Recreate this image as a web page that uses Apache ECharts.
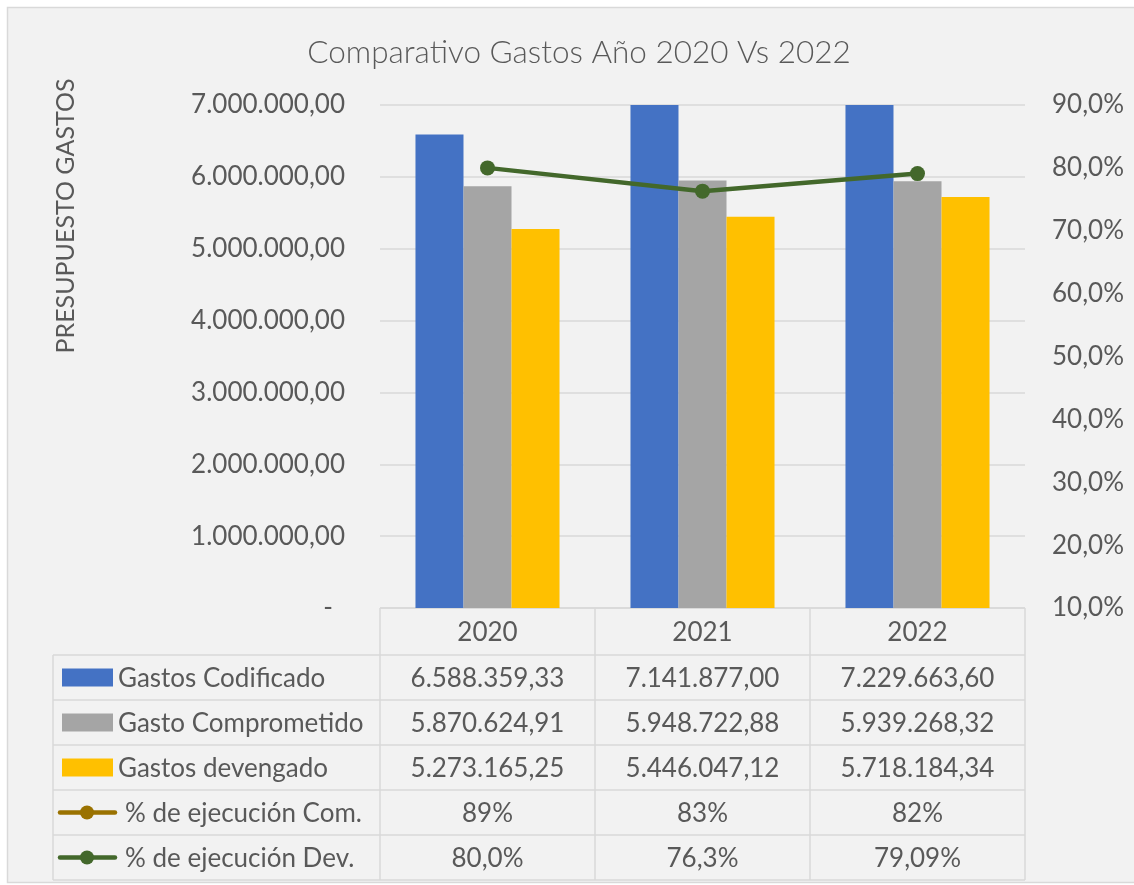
<!DOCTYPE html>
<html>
<head>
<meta charset="utf-8">
<script src="https://cdn.jsdelivr.net/npm/echarts@6/dist/echarts.min.js"></script>
<style>html,body{margin:0;padding:0;background:#fff}#c{width:1134px;height:885px}</style>
</head>
<body>
<div id="c"></div>
<script>
var categories = ['2020', '2021', '2022'];
var codificado = [6588359.33, 7141877.00, 7229663.60];
var comprometido = [5870624.91, 5948722.88, 5939268.32];
var devengado = [5273165.25, 5446047.12, 5718184.34];
var pctCom = [89, 83, 82];
var pctComLabels = ['89%', '83%', '82%'];
var pctDev = [80.0, 76.3, 79.09];
var pctDevLabels = ['80,0%', '76,3%', '79,09%'];
var seriesNames = ['Gastos Codificado', 'Gasto Comprometido', 'Gastos devengado', '% de ejecución Com.', '% de ejecución Dev.'];

var FONT = 'Lato';
var FS = 26;
var TXT = '#595959';
var C_BLUE = '#4472C4', C_GRAY = '#A5A5A5', C_YEL = '#FFC000', C_COM = '#9A7200', C_DEV = '#43682B';
var GL = 380, GR = 1025, GT = 105, GB = 608;

function fmtNum(v) {
  var s = v.toFixed(2).split('.');
  return s[0].replace(/\B(?=(\d{3})+(?!\d))/g, '.') + ',' + s[1];
}

var chart = echarts.init(document.getElementById('c'));
var option = {
  backgroundColor: '#f2f2f2',
  animation: false,
  title: {
    text: 'Comparativo Gastos Año 2020 Vs 2022',
    left: 574, top: 32, textAlign: 'center',
    textStyle: { fontFamily: FONT, fontWeight: 300, fontSize: 31.5, color: TXT }
  },
  grid: { left: GL, right: 1134 - GR, top: GT, bottom: 885 - GB, containLabel: false },
  xAxis: {
    type: 'category', data: categories,
    axisLine: { show: false }, axisTick: { show: false }, axisLabel: { show: false }
  },
  yAxis: [{
    type: 'value', min: 0, max: 7000000, interval: 1000000,
    axisLine: { show: false }, axisTick: { show: false },
    splitLine: { lineStyle: { color: '#d9d9d9', width: 1.5 } },
    axisLabel: {
      margin: 35, fontFamily: FONT, fontSize: FS, color: TXT,
      formatter: function (v) { return v === 0 ? '{d|-}' : fmtNum(v); },
      rich: { d: { fontFamily: FONT, fontSize: FS, color: TXT, padding: [0, 12, 0, 0] } }
    }
  }, {
    type: 'value', min: 10, max: 90, interval: 10,
    axisLine: { show: false }, axisTick: { show: false }, splitLine: { show: false },
    axisLabel: {
      margin: 27, fontFamily: FONT, fontSize: FS, color: TXT,
      formatter: function (v) { return v.toFixed(1).replace('.', ',') + '%'; }
    }
  }],
  series: [
    { name: seriesNames[0], type: 'bar', data: codificado, barGap: '0%', barCategoryGap: '33%', itemStyle: { color: C_BLUE }, clip: true },
    { name: seriesNames[1], type: 'bar', data: comprometido, itemStyle: { color: C_GRAY }, clip: true },
    { name: seriesNames[2], type: 'bar', data: devengado, itemStyle: { color: C_YEL }, clip: true },
    { name: seriesNames[4], type: 'line', yAxisIndex: 1, data: pctDev, symbol: 'circle', symbolSize: 15,
      lineStyle: { color: C_DEV, width: 4.5 }, itemStyle: { color: C_DEV }, z: 5 }
  ]
};
chart.setOption(option);

// Data table under the plot
var els = [];
els.push({ type: 'rect', shape: { x: 0, y: 0, width: 1134, height: 7 }, style: { fill: '#fff' }, silent: true });
els.push({ type: 'rect', shape: { x: 0, y: 0, width: 7, height: 885 }, style: { fill: '#fff' }, silent: true });
els.push({ type: 'rect', shape: { x: 0, y: 883, width: 1134, height: 2 }, style: { fill: '#fff' }, silent: true });
els.push({ type: 'rect', shape: { x: 7.5, y: 7.5, width: 1140, height: 875 }, style: { fill: 'none', stroke: '#d9d9d9', lineWidth: 1.5 }, silent: true });

els.push({ type: 'text', x: 66, y: 216, rotation: Math.PI / 2,
  style: { text: 'PRESUPUESTO GASTOS', fontFamily: FONT, fontSize: 25, fill: TXT, align: 'center', verticalAlign: 'middle' } });

var lineC = '#d9d9d9', LW = 1.5;
var TL = 53, HT = GB, RH = 45, ROWS = 5;
var rowTop = GB + 47;
var tableBottom = rowTop + RH * ROWS;
var colEdges = [GL];
var catW = (GR - GL) / categories.length;
for (var i = 1; i <= categories.length; i++) colEdges.push(GL + catW * i);

function hline(x1, x2, y) { els.push({ type: 'line', shape: { x1: x1, y1: y, x2: x2, y2: y }, style: { stroke: lineC, lineWidth: LW }, silent: true }); }
function vline(x, y1, y2) { els.push({ type: 'line', shape: { x1: x, y1: y1, x2: x, y2: y2 }, style: { stroke: lineC, lineWidth: LW }, silent: true }); }

hline(GL, GR, HT);
for (var r = 0; r <= ROWS; r++) hline(TL, GR, rowTop + r * RH);
vline(TL, rowTop, tableBottom);
colEdges.forEach(function (x) { vline(x, HT, tableBottom); });

var centers = categories.map(function (c) { return chart.convertToPixel({ xAxisIndex: 0 }, c); });
categories.forEach(function (c, i) {
  els.push({ type: 'text', x: centers[i], y: (HT + rowTop) / 2 + 1,
    style: { text: c, fontFamily: FONT, fontSize: FS, fill: TXT, align: 'center', verticalAlign: 'middle' } });
});

var rowVals = [
  codificado.map(fmtNum),
  comprometido.map(fmtNum),
  devengado.map(fmtNum),
  pctComLabels,
  pctDevLabels
];
var keyColors = [C_BLUE, C_GRAY, C_YEL, C_COM, C_DEV];
for (var r = 0; r < ROWS; r++) {
  var cy = rowTop + r * RH + RH / 2;
  var tx;
  if (r < 3) {
    els.push({ type: 'rect', shape: { x: 62, y: cy - 9, width: 51, height: 18 }, style: { fill: keyColors[r] }, silent: true });
    tx = 118;
  } else {
    els.push({ type: 'line', shape: { x1: 60, y1: cy, x2: 115, y2: cy }, style: { stroke: keyColors[r], lineWidth: 4.5, lineCap: 'round' }, silent: true });
    els.push({ type: 'circle', shape: { cx: 87, cy: cy, r: 7 }, style: { fill: keyColors[r] }, silent: true });
    tx = 125;
  }
  els.push({ type: 'text', x: tx, y: cy + 1,
    style: { text: seriesNames[r], fontFamily: FONT, fontSize: FS, fill: TXT, align: 'left', verticalAlign: 'middle' } });
  for (var i = 0; i < categories.length; i++) {
    els.push({ type: 'text', x: centers[i], y: cy + 1,
      style: { text: rowVals[r][i], fontFamily: FONT, fontSize: FS, fill: TXT, align: 'center', verticalAlign: 'middle' } });
  }
}
chart.setOption({ graphic: { elements: els } });
</script>
</body>
</html>
